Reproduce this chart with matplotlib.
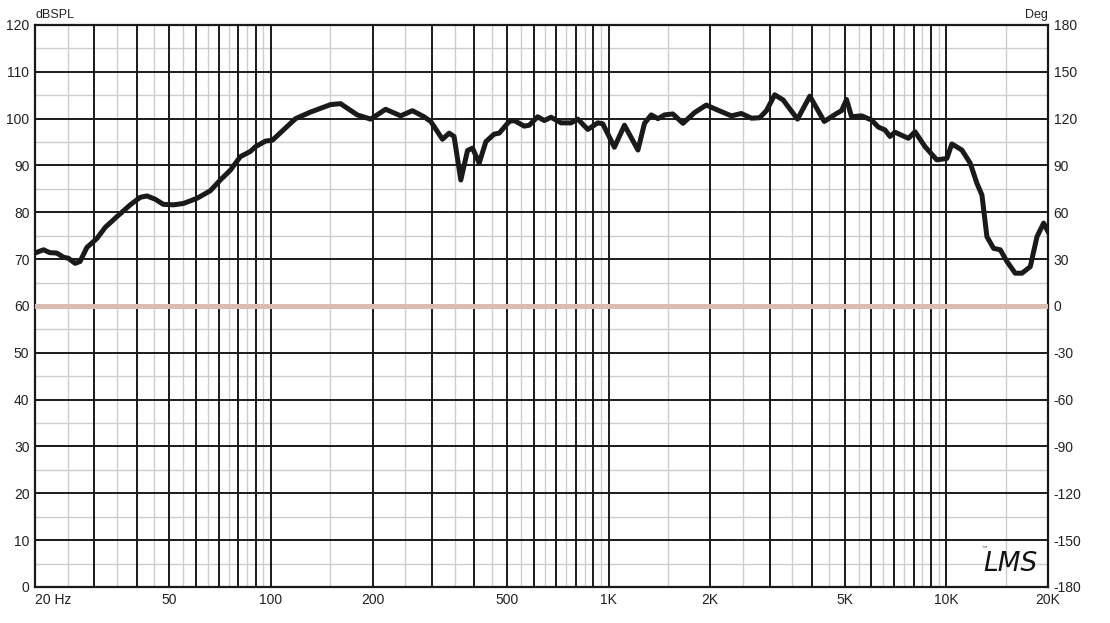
import matplotlib
matplotlib.use("Agg")
import matplotlib.pyplot as plt
import numpy as np

plt.rcParams['font.family'] = ['Liberation Sans', 'DejaVu Sans']
plt.rcParams['axes.unicode_minus'] = False

# frequency response (Hz, dBSPL), 10 per row
freq = [20, 21.2, 22.1, 23.2, 24.3, 25.1, 26.3, 27.2, 28.5, 30.5,
        32.3, 35.0, 38.3, 41.0, 42.9, 45.4, 48.0, 51.5, 55.1, 60.4,
        66.1, 70.8, 75.8, 81.2, 86.9, 89.9, 96.3, 101, 110.4, 118.2,
        130.9, 150.1, 160.7, 180.1, 197.3, 218.6, 242.1, 262.3, 284.0, 297.3,
        322.0, 336.9, 348.5, 364.9, 382.0, 395.3, 413.6, 433.0, 458.2, 474.1,
        507.7, 525.3, 562.4, 581.9, 616.3, 644.8, 675.1, 722.9, 773.9, 810.3,
        867.6, 928.9, 960.8, 1040, 1114, 1221, 1277, 1337, 1400, 1464,
        1550, 1660, 1797, 1946, 2108, 2309, 2472, 2647, 2801, 2933,
        3103, 3286, 3625, 3943, 4351, 4731, 4895, 5065, 5241, 5612,
        6008, 6292, 6582, 6811, 7048, 7723, 8080, 8654, 9372, 10036,
        10385, 11120, 11770, 12320, 12750, 13190, 13810, 14450, 15120, 16000,
        16750, 17730, 18560, 19420, 20000]
spl = [71.3, 72.0, 71.4, 71.3, 70.4, 70.2, 69.1, 69.5, 72.5, 74.4,
       76.8, 79.1, 81.6, 83.2, 83.5, 82.8, 81.7, 81.6, 81.9, 83.0,
       84.6, 86.9, 89.0, 91.9, 93.0, 94.0, 95.2, 95.4, 98.0, 100.0,
       101.4, 103.0, 103.2, 100.8, 99.9, 102.0, 100.6, 101.7, 100.4, 99.4,
       95.6, 96.9, 96.2, 86.9, 93.2, 93.7, 90.5, 95.1, 96.7, 96.9,
       99.4, 99.6, 98.4, 98.6, 100.4, 99.6, 100.3, 99.1, 99.1, 99.9,
       97.7, 99.1, 98.9, 93.9, 98.6, 93.3, 99.0, 100.8, 100.0, 100.8,
       101.0, 99.0, 101.3, 102.9, 101.8, 100.6, 101.1, 100.1, 100.2, 101.7,
       105.1, 104.0, 99.9, 104.8, 99.4, 101.1, 101.7, 104.1, 100.4, 100.6,
       99.7, 98.2, 97.6, 96.2, 97.1, 95.8, 97.2, 94.0, 91.2, 91.5,
       94.6, 93.3, 90.5, 86.2, 83.7, 74.8, 72.3, 72.0, 69.5, 67.0,
       67.0, 68.4, 74.8, 77.7, 75.9]

# phase reference line (0 deg sits at 60 dB)
phase_zero_db = 60

xtick_vals = [20, 50, 100, 200, 500, 1000, 2000, 5000, 10000, 20000]
xtick_text = ['20 Hz', '50', '100', '200', '500', '1K', '2K', '5K', '10K', '20K']
ytick_vals = list(range(0, 121, 10))
deg_vals = list(range(-180, 181, 30))

fig = plt.figure(figsize=(11.1, 6.23), dpi=100)
ax = fig.add_axes([0.0315, 0.0578, 0.9126, 0.9021])
ax.set_xscale('log')
ax.set_xlim(20, 20000)
ax.set_ylim(0, 120)

# grid: gray half steps, black whole steps
minor_x = list(np.arange(25, 100, 10)) + [b * m for b in (100, 1000) for m in np.arange(1.5, 10, 1.0)] + [15000]
major_x = list(range(30, 101, 10)) + [b * m for b in (100, 1000) for m in range(2, 11)] + [20000]
for x in minor_x:
    ax.axvline(x, color='#cdcdcd', lw=1.0, zorder=1)
for y in np.arange(5, 120, 10):
    ax.axhline(y, color='#cdcdcd', lw=1.0, zorder=1)
for x in major_x:
    ax.axvline(x, color='#1a1a1a', lw=1.4, zorder=2)
for y in ytick_vals:
    ax.axhline(y, color='#1a1a1a', lw=1.4, zorder=2)

ax.axhline(phase_zero_db, color='#d8bdb0', lw=3.6, zorder=3)
ax.plot(freq, spl, color='#1a1a1a', lw=3.6, solid_joinstyle='round', zorder=4)

for s in ax.spines.values():
    s.set_linewidth(1.6)
    s.set_color('#1a1a1a')

ax.set_xticks(xtick_vals)
ax.set_xticklabels(xtick_text)
ax.xaxis.set_minor_locator(matplotlib.ticker.NullLocator())
ax.set_yticks(ytick_vals)
ax.tick_params(length=0, labelsize=10, colors='#222222', pad=4)
ax.tick_params(axis='x', pad=4)
ax.get_xticklabels()[0].set_horizontalalignment('left')

ax2 = ax.twinx()
ax2.set_ylim(-180, 180)
ax2.set_yticks(deg_vals)
ax2.tick_params(length=0, labelsize=10, colors='#222222', pad=4)
for s in ax2.spines.values():
    s.set_visible(False)

fig.text(0.032, 0.967, 'dBSPL', fontsize=9, color='#222222', ha='left', va='bottom')
fig.text(0.944, 0.967, 'Deg', fontsize=9, color='#222222', ha='right', va='bottom')

ax.text(0.963, 0.018, 'LMS', transform=ax.transAxes, fontsize=19, style='italic',
        family='DejaVu Sans', weight='light', color='#111111', ha='center', va='bottom', zorder=5)
ax.text(0.934, 0.066, '™', transform=ax.transAxes, fontsize=4, color='#555555', zorder=5)

fig.savefig('out.png', dpi=100)
